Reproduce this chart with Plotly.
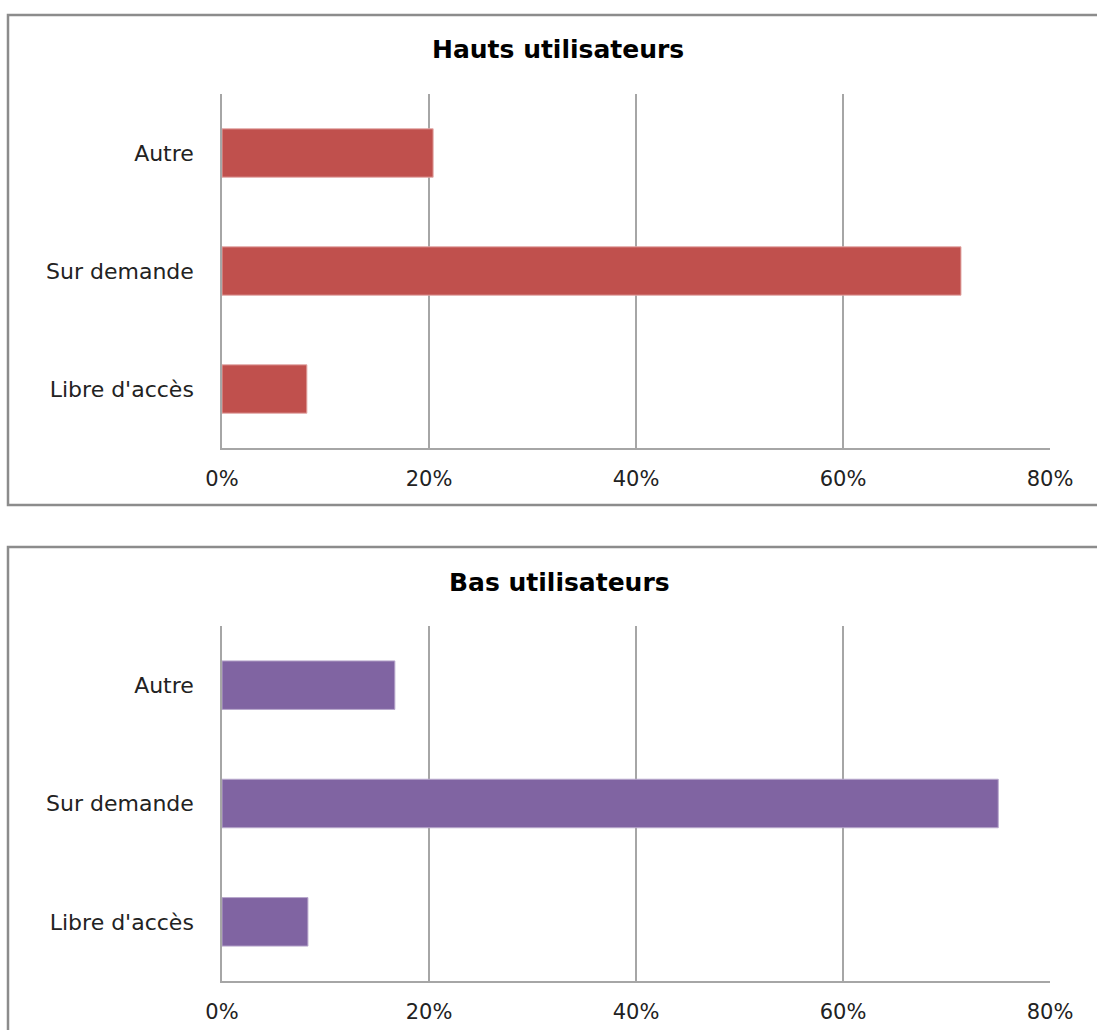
import plotly.graph_objects as go

# Survey shares by access mode, for heavy and light users
categories = ["Libre d'accès", "Sur demande", "Autre"]
hauts_values = [8.2, 71.4, 20.4]
bas_values = [8.3, 75.0, 16.7]
x_ticks = [0, 20, 40, 60, 80]
x_tick_labels = ["0%", "20%", "40%", "60%", "80%"]

W, H = 1097, 1030
RED = "#C0504D"
PURPLE = "#8064A2"
GRID = "#A6A6A6"
FONT = "DejaVu Sans"


def py(px):
    """Convert a pixel row (from top) to paper y."""
    return 1 - px / H


def px_x(px):
    return px / W


fig = go.Figure()

fig.add_trace(go.Bar(
    y=categories, x=hauts_values, orientation="h",
    marker=dict(color=RED, line=dict(color="#E3A9A7", width=1)),
    xaxis="x", yaxis="y", showlegend=False, hoverinfo="x+y",
))
fig.add_trace(go.Bar(
    y=categories, x=bas_values, orientation="h",
    marker=dict(color=PURPLE, line=dict(color="#B8A8CC", width=1)),
    xaxis="x2", yaxis="y2", showlegend=False, hoverinfo="x+y",
))

xaxis_common = dict(
    range=[0, 80], tickvals=x_ticks, ticktext=x_tick_labels,
    showgrid=True, gridcolor=GRID, gridwidth=1.5,
    showline=True, linecolor=GRID, linewidth=1.5,
    zeroline=False, ticks="", ticklabelstandoff=11,
    tickfont=dict(family=FONT, size=21, color="#222222"),
    automargin=False, fixedrange=True,
)
yaxis_common = dict(
    categoryorder="array", categoryarray=categories,
    showgrid=False, showline=True, linecolor=GRID, linewidth=1.5,
    zeroline=False, ticks="", ticklabelstandoff=22,
    tickfont=dict(family=FONT, size=22, color="#222222"),
    automargin=False, fixedrange=True,
)

fig.update_layout(
    width=W, height=H,
    margin=dict(l=0, r=0, t=0, b=0, autoexpand=False),
    paper_bgcolor="white", plot_bgcolor="white",
    bargap=0.59,
    xaxis=dict(domain=[px_x(222), px_x(1050)], anchor="y", **xaxis_common),
    yaxis=dict(domain=[py(448), py(94)], anchor="x", **yaxis_common),
    xaxis2=dict(domain=[px_x(222), px_x(1050)], anchor="y2", **xaxis_common),
    yaxis2=dict(domain=[py(981), py(626)], anchor="x2", **yaxis_common),
)

# Chart frames
fig.add_shape(type="rect", xref="paper", yref="paper",
              x0=px_x(8), x1=px_x(1110), y0=py(505), y1=py(15),
              line=dict(color="#8C8C8C", width=2.5), layer="below")
fig.add_shape(type="rect", xref="paper", yref="paper",
              x0=px_x(8), x1=px_x(1110), y0=py(1060), y1=py(547),
              line=dict(color="#8C8C8C", width=2.5), layer="below")

# Chart titles
fig.add_annotation(text="<b>Hauts utilisateurs</b>", xref="paper", yref="paper",
                   x=px_x(558), y=py(50), xanchor="center", yanchor="middle",
                   showarrow=False,
                   font=dict(family=FONT, size=25, color="#000000"))
fig.add_annotation(text="<b>Bas utilisateurs</b>", xref="paper", yref="paper",
                   x=px_x(559), y=py(582), xanchor="center", yanchor="middle",
                   showarrow=False,
                   font=dict(family=FONT, size=25, color="#000000"))

fig.write_html("out.html")
